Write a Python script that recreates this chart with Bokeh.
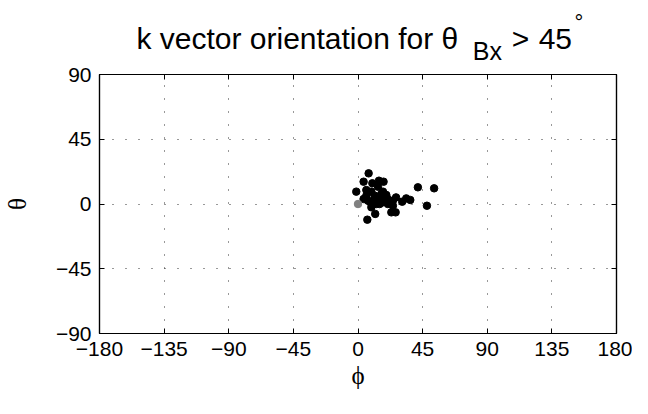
from bokeh.plotting import figure
from bokeh.models import LinearAxis, FixedTicker, Range1d
from bokeh.layouts import column
from bokeh.core.properties import value
from bokeh.embed import file_html
from bokeh.resources import INLINE

# ---- data (degrees) ----
phi = [7.4, 3.9, 10.0, 14.6, 17.8, 13.9, -1.2, 5.8, 9.3, 17.4, 11.6, 19.7,
       3.9, 6.9, 10.4, 15.1, 20.8, 24.3, 26.5, 30.8, 33.6, 36.4, 41.7, 53.0,
       48.0, 9.3, 12.0, 23.2, 26.2, 6.5, 12.7, 17.4, 20.8, 24.3, 8.6, 16.2,
       5.8, 15.1, 18.5]
theta = [21.3, 15.5, 14.4, 16.2, 15.5, 12.0, 8.6, 9.7, 8.6, 8.6, 5.8, 6.3,
         3.5, 2.3, 2.3, 3.5, 3.5, 2.3, 4.6, 1.6, 3.9, 2.8, 11.6, 10.9,
         -1.2, -2.3, -6.9, -5.8, -5.8, -10.9, 0.0, 1.2, 0.0, -1.2, 1.2, 6.9,
         5.8, 0.0, 3.9]
ref_phi = [0.0]
ref_theta = [0.0]

x_ticks = [-180, -135, -90, -45, 0, 45, 90, 135, 180]
x_tick_labels = ["\u2212180", "\u2212135", "\u221290", "\u221245", "0", "45", "90", "135", "180"]
y_ticks = [-90, -45, 0, 45, 90]
y_tick_labels = ["\u221290", "\u221245", "0", "45", "90"]

title_main = "k vector orientation for \u03b8"
title_sub = "Bx"
title_rest = ">"
title_num = "45"
title_sup = "\u00b0"

FONT = "Liberation Sans"

# ---- layout ----
W = 632
TH = 61                  # title strip height
H = 398 - TH             # main plot height
FL, FW = 98, 518
FT, FH = 13, 259

# ---- title strip (its own figure; data units = canvas px, y downwards) ----
t = figure(title=None, width=W, height=TH,
           x_range=Range1d(FL, FL + FW), y_range=Range1d(TH, 0),
           x_axis_location=None, y_axis_location=None,
           min_border_left=FL, min_border_right=W - FL - FW,
           min_border_top=0, min_border_bottom=0,
           output_backend="svg", toolbar_location=None)
t.grid.visible = False
t.outline_line_color = None
t.background_fill_color = "white"
t.border_fill_color = "white"

def ttext(txt, x, y, size):
    t.text(x=[x], y=[y], text=[txt], text_font=value(FONT),
           text_font_size=value(size), text_color="black",
           text_align="left", text_baseline="alphabetic")

ttext(title_main, 135, 38, "30px")
ttext(title_sub, 472, 50, "25px")
ttext(title_rest, 511, 38, "30px")
ttext(title_num, 538, 38, "30px")
ttext(title_sup, 574, 22, "22px")

# ---- main plot ----
p = figure(width=W, height=H, x_range=Range1d(-180, 180), y_range=Range1d(-90, 90),
           min_border_left=FL, min_border_top=FT,
           min_border_right=W - FL - FW, min_border_bottom=H - FT - FH,
           output_backend="svg", toolbar_location=None)
p.background_fill_color = "white"
p.border_fill_color = "white"
p.outline_line_color = "black"
p.outline_line_width = 1.2

for g, tk in ((p.xgrid, x_ticks), (p.ygrid, y_ticks)):
    g.ticker = FixedTicker(ticks=tk)
    g.grid_line_color = "#333333"
    g.grid_line_dash = "1 12"
    g.grid_line_width = 1

def style_axis(ax, ticks, labels, show_labels=True):
    ax.ticker = FixedTicker(ticks=ticks)
    ax.major_label_overrides = {k: l for k, l in zip(ticks, labels)}
    ax.major_tick_in = 5
    ax.major_tick_out = 0
    ax.minor_tick_in = 0
    ax.minor_tick_out = 0
    ax.axis_line_color = "black"
    ax.axis_line_width = 1.2
    ax.major_tick_line_color = "black"
    ax.major_label_text_font = FONT
    ax.major_label_text_color = "black"
    ax.major_label_standoff = 8
    if show_labels:
        ax.major_label_text_font_size = "21px"
    else:
        ax.major_label_text_font_size = "0px"
        ax.major_label_standoff = 0

style_axis(p.xaxis[0], x_ticks, x_tick_labels)
style_axis(p.yaxis[0], y_ticks, y_tick_labels)
p.xaxis[0].axis_label = "\u03d5"
p.yaxis[0].axis_label = "\u03b8"
for ax in (p.xaxis[0], p.yaxis[0]):
    ax.axis_label_text_font = "Liberation Serif"
    ax.axis_label_text_font_style = "normal"
    ax.axis_label_text_font_size = "25px"
    ax.axis_label_text_color = "black"
p.xaxis[0].axis_label_standoff = 3
p.yaxis[0].axis_label_standoff = 22

top_ax = LinearAxis()
right_ax = LinearAxis()
style_axis(top_ax, x_ticks, ["" for _ in x_ticks], show_labels=False)
style_axis(right_ax, y_ticks, ["" for _ in y_ticks], show_labels=False)
p.add_layout(top_ax, "above")
p.add_layout(right_ax, "right")

p.scatter(phi, theta, size=7.5, color="black", line_color="black")
p.scatter(ref_phi, ref_theta, size=7.5, color="#808080", line_color="#808080")

layout = column(t, p, spacing=0)
open("out.html", "w").write(file_html(layout, INLINE))
